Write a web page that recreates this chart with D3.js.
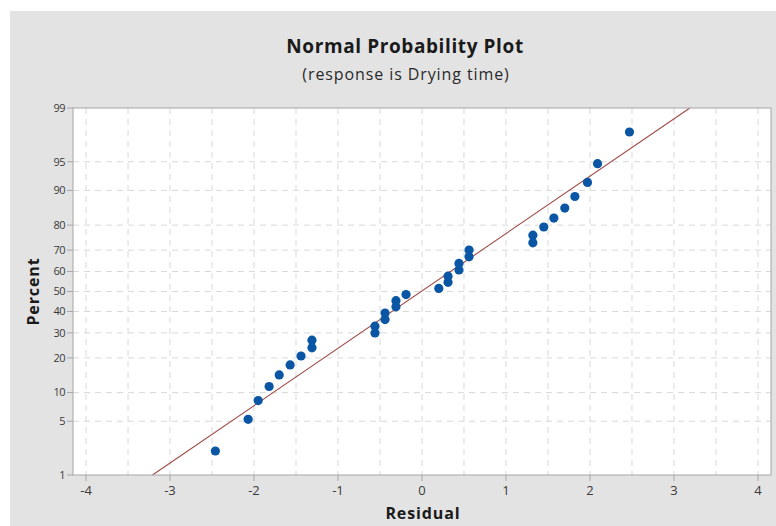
<!DOCTYPE html>
<html>
<head>
<meta charset="utf-8">
<script src="https://cdnjs.cloudflare.com/ajax/libs/d3/7.8.5/d3.min.js"></script>
<style>
  body { margin: 0; background: #fff; }
  text { font-family: "Open Sans", "Noto Sans", sans-serif; }
</style>
</head>
<body>
<script>
(function() {

    var width = 776,
        height = 526;

    // residuals, in order
    var residuals = [-2.46, -2.07, -1.95, -1.82, -1.70, -1.57, -1.44, -1.31,
                     -1.31, -0.56, -0.56, -0.44, -0.44, -0.31, -0.31, -0.19,
                      0.20,  0.31,  0.31,  0.44,  0.44,  0.56,  0.56,  1.32,
                      1.32,  1.45,  1.57,  1.70,  1.82,  1.97,  2.09,  2.47];

    // plotting percents for each point
    var percents = [2.16, 5.25, 8.33, 11.42, 14.51, 17.59, 20.68, 23.77,
                    26.85, 29.94, 33.02, 36.11, 39.20, 42.28, 45.37, 48.46,
                    51.54, 54.63, 57.72, 60.80, 63.89, 66.98, 70.06, 73.15,
                    76.23, 79.32, 82.41, 85.49, 88.58, 91.67, 94.75, 97.84];

    var percentTicks = [1, 5, 10, 20, 30, 40, 50, 60, 70, 80, 90, 95, 99];
    var residualTicks = [-4, -3, -2, -1, 0, 1, 2, 3, 4];

    // fitted normal line
    var fitMean = -0.01,
        fitSd = 1.375;

    // inverse normal cdf (Acklam)
    function qnorm(p) {
        var a = [-3.969683028665376e+01, 2.209460984245205e+02, -2.759285104469687e+02, 1.383577518672690e+02, -3.066479806614716e+01, 2.506628277459239e+00],
            b = [-5.447609879822406e+01, 1.615858368580409e+02, -1.556989798598866e+02, 6.680131188771972e+01, -1.328068155288572e+01],
            c = [-7.784894002430293e-03, -3.223964580411365e-01, -2.400758277161838e+00, -2.549732539343734e+00, 4.374664141464968e+00, 2.938163982698783e+00],
            d = [7.784695709041462e-03, 3.224671290700398e-01, 2.445134137142996e+00, 3.754408661907416e+00];
        var q, r;
        if (p < 0.02425) {
            q = Math.sqrt(-2 * Math.log(p));
            return (((((c[0]*q+c[1])*q+c[2])*q+c[3])*q+c[4])*q+c[5]) / ((((d[0]*q+d[1])*q+d[2])*q+d[3])*q+1);
        } else if (p > 1 - 0.02425) {
            q = Math.sqrt(-2 * Math.log(1 - p));
            return -(((((c[0]*q+c[1])*q+c[2])*q+c[3])*q+c[4])*q+c[5]) / ((((d[0]*q+d[1])*q+d[2])*q+d[3])*q+1);
        }
        q = p - 0.5;
        r = q * q;
        return (((((a[0]*r+a[1])*r+a[2])*r+a[3])*r+a[4])*r+a[5])*q / (((((b[0]*r+b[1])*r+b[2])*r+b[3])*r+b[4])*r+1);
    }

    var svg = d3.select("body")
        .append("svg")
        .attr("width", width)
        .attr("height", height);

    // grey panel
    svg.append("rect")
        .attr("x", 10)
        .attr("y", 11)
        .attr("width", width - 10)
        .attr("height", height - 11)
        .attr("fill", "#e3e3e3");

    var left = 73, right = 771, top = 108, bottom = 475;

    var x = d3.scaleLinear()
        .domain([-4.155, 4.155])
        .range([left, right]);

    // y works on the normal quantile of the percent
    var zScale = d3.scaleLinear()
        .domain([qnorm(0.01), qnorm(0.99)])
        .range([bottom, top]);
    var y = function(pct) { return zScale(qnorm(pct / 100)); };

    svg.append("rect")
        .attr("x", left)
        .attr("y", top)
        .attr("width", right - left)
        .attr("height", bottom - top)
        .attr("fill", "#fff");

    var grid = svg.append("g");

    grid.selectAll(".vgrid")
        .data(d3.range(-4, 4.01, 0.5))
        .enter().append("line")
        .attr("x1", function(d) { return x(d); })
        .attr("x2", function(d) { return x(d); })
        .attr("y1", top)
        .attr("y2", bottom)
        .attr("stroke", "#d9d9d9")
        .attr("stroke-dasharray", "6,5");

    grid.selectAll(".hgrid")
        .data(percentTicks.slice(1, -1))
        .enter().append("line")
        .attr("x1", left)
        .attr("x2", right)
        .attr("y1", function(d) { return y(d); })
        .attr("y2", function(d) { return y(d); })
        .attr("stroke", "#d9d9d9")
        .attr("stroke-dasharray", "6,5");

    // fit line clipped to 1..99
    var lineData = [1, 99].map(function(p) {
        return { r: fitMean + fitSd * qnorm(p / 100), p: p };
    });
    svg.append("path")
        .datum(lineData)
        .attr("d", d3.line()
            .x(function(d) { return x(d.r); })
            .y(function(d) { return y(d.p); }))
        .attr("stroke", "#a04a46")
        .attr("stroke-width", 1.1)
        .attr("fill", "none");

    svg.selectAll(".pt")
        .data(residuals)
        .enter().append("circle")
        .attr("class", "pt")
        .attr("cx", function(d) { return x(d); })
        .attr("cy", function(d, i) { return y(percents[i]); })
        .attr("r", 4.6)
        .attr("fill", "#0a56a4");

    // frame
    svg.append("rect")
        .attr("x", left)
        .attr("y", top)
        .attr("width", right - left)
        .attr("height", bottom - top)
        .attr("fill", "none")
        .attr("stroke", "#a6a6a6");

    // y ticks
    var yt = svg.append("g");
    yt.selectAll("line")
        .data(percentTicks)
        .enter().append("line")
        .attr("x1", left - 6)
        .attr("x2", left)
        .attr("y1", function(d) { return y(d); })
        .attr("y2", function(d) { return y(d); })
        .attr("stroke", "#a6a6a6");
    yt.selectAll("text")
        .data(percentTicks)
        .enter().append("text")
        .attr("x", left - 8)
        .attr("y", function(d) { return y(d); })
        .attr("dy", "0.35em")
        .attr("text-anchor", "end")
        .attr("font-size", 11)
        .attr("letter-spacing", -0.5)
        .attr("fill", "#3a3a3a")
        .text(function(d) { return d; });

    // x ticks
    var xt = svg.append("g");
    xt.selectAll("line")
        .data(residualTicks)
        .enter().append("line")
        .attr("x1", function(d) { return x(d); })
        .attr("x2", function(d) { return x(d); })
        .attr("y1", bottom)
        .attr("y2", bottom + 6)
        .attr("stroke", "#a6a6a6");
    xt.selectAll("text")
        .data(residualTicks)
        .enter().append("text")
        .attr("x", function(d) { return x(d); })
        .attr("y", bottom + 20)
        .attr("text-anchor", "middle")
        .attr("font-size", 13)
        .attr("fill", "#3a3a3a")
        .text(function(d) { return d; });

    // titles
    svg.append("text")
        .attr("x", 405)
        .attr("y", 53)
        .attr("text-anchor", "middle")
        .attr("font-size", 19)
        .attr("font-weight", "bold")
        .attr("letter-spacing", 0.6)
        .attr("fill", "#1a1a1a")
        .text("Normal Probability Plot");

    svg.append("text")
        .attr("x", 406)
        .attr("y", 80)
        .attr("text-anchor", "middle")
        .attr("font-size", 16)
        .attr("letter-spacing", 0.9)
        .attr("fill", "#2a2a2a")
        .text("(response is Drying time)");

    svg.append("text")
        .attr("x", x(0) + 1)
        .attr("y", 519)
        .attr("text-anchor", "middle")
        .attr("font-size", 16)
        .attr("font-weight", "bold")
        .attr("letter-spacing", 0.9)
        .attr("fill", "#1a1a1a")
        .text("Residual");

    svg.append("text")
        .attr("transform", "translate(39," + y(50) + ") rotate(-90)")
        .attr("text-anchor", "middle")
        .attr("font-size", 16)
        .attr("font-weight", "bold")
        .attr("letter-spacing", 0.9)
        .attr("fill", "#1a1a1a")
        .text("Percent");

})();
</script>
</body>
</html>
